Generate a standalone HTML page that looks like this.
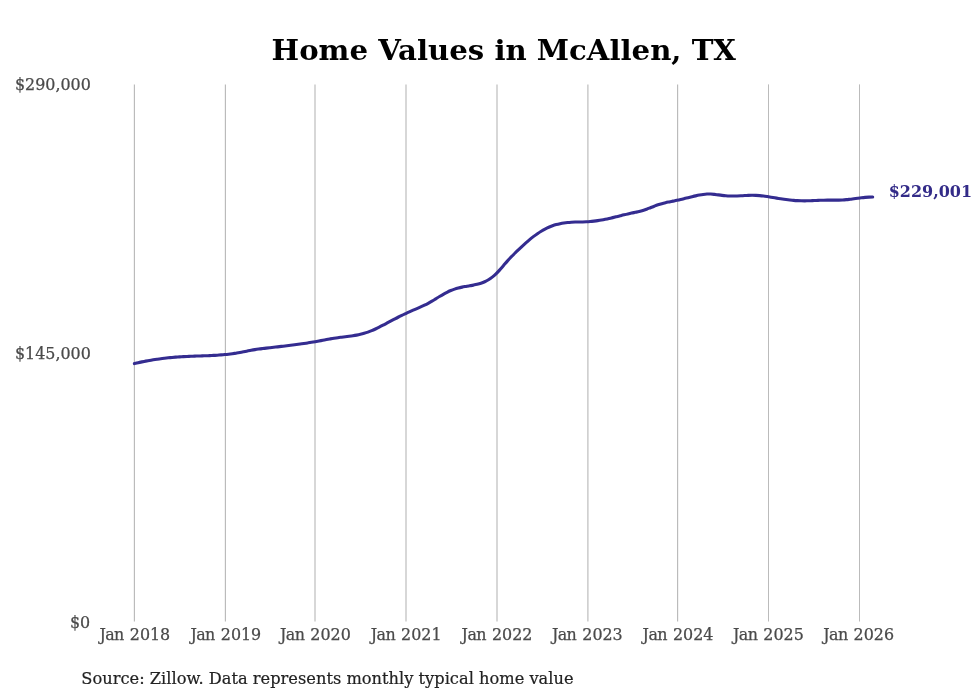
<!DOCTYPE html>
<html lang="en">
<head>
<meta charset="utf-8">
<title>Home Values in McAllen, TX</title>
<style>
html,body{margin:0;padding:0;background:#fff;}
body{width:980px;height:699px;overflow:hidden;font-family:"DejaVu Serif","Liberation Serif",serif;}
svg{display:block;}
svg text{font-family:"DejaVu Serif","Liberation Serif",serif;}
.grid line{stroke:#bbbbbb;}
.tick text{font-size:15.9px;fill:#4a4a4a;stroke:#4a4a4a;stroke-width:0.25px;}
.title{font-size:29.17px;font-weight:bold;fill:#000;}
.val{font-size:16.4px;font-weight:bold;fill:#332b88;}
.src{font-size:16.67px;fill:#222;stroke:#222;stroke-width:0.2px;}
</style>
</head>
<body>
<svg width="980" height="699" viewBox="0 0 980 699">
<rect x="0" y="0" width="980" height="699" fill="#ffffff"/>
<text class="title" transform="translate(503.8,60.3) scale(1,0.95)" text-anchor="middle">Home Values in McAllen, TX</text>
<g class="grid">
<line x1="134.41" y1="84.4" x2="134.41" y2="621.5" stroke-width="1.18"/>
<line x1="225.41" y1="84.4" x2="225.41" y2="621.5" stroke-width="1.18"/>
<line x1="315.00" y1="84.4" x2="315.00" y2="621.5" stroke-width="1.18"/>
<line x1="406.00" y1="84.4" x2="406.00" y2="621.5" stroke-width="1.18"/>
<line x1="497.00" y1="84.4" x2="497.00" y2="621.5" stroke-width="1.18"/>
<line x1="587.90" y1="84.4" x2="587.90" y2="621.5" stroke-width="1.18"/>
<line x1="677.59" y1="84.4" x2="677.59" y2="621.5" stroke-width="1.18"/>
<line x1="768.50" y1="84.4" x2="768.50" y2="621.5" stroke-width="1.00"/>
<line x1="859.50" y1="84.4" x2="859.50" y2="621.5" stroke-width="1.00"/>
</g>
<g class="tick">
<text x="90.8" y="89.8" text-anchor="end">$290,000</text>
<text x="90.8" y="359.0" text-anchor="end">$145,000</text>
<text x="90.2" y="628.4" text-anchor="end">$0</text>
<text x="134.8" y="639.9" text-anchor="middle"><tspan letter-spacing="-0.55">Jan</tspan><tspan dx="0.9"> 2018</tspan></text>
<text x="225.8" y="639.9" text-anchor="middle"><tspan letter-spacing="-0.55">Jan</tspan><tspan dx="0.9"> 2019</tspan></text>
<text x="315.4" y="639.9" text-anchor="middle"><tspan letter-spacing="-0.55">Jan</tspan><tspan dx="0.9"> 2020</tspan></text>
<text x="406.1" y="639.9" text-anchor="middle"><tspan letter-spacing="-0.55">Jan</tspan><tspan dx="0.9"> 2021</tspan></text>
<text x="497.0" y="639.9" text-anchor="middle"><tspan letter-spacing="-0.55">Jan</tspan><tspan dx="0.9"> 2022</tspan></text>
<text x="587.3" y="639.9" text-anchor="middle"><tspan letter-spacing="-0.55">Jan</tspan><tspan dx="0.9"> 2023</tspan></text>
<text x="678.0" y="639.9" text-anchor="middle"><tspan letter-spacing="-0.55">Jan</tspan><tspan dx="0.9"> 2024</tspan></text>
<text x="768.4" y="639.9" text-anchor="middle"><tspan letter-spacing="-0.55">Jan</tspan><tspan dx="0.9"> 2025</tspan></text>
<text x="858.6" y="639.9" text-anchor="middle"><tspan letter-spacing="-0.55">Jan</tspan><tspan dx="0.9"> 2026</tspan></text>
</g>
<path d="M134.40,363.57 C135.03,363.42 136.91,362.97 138.17,362.69 C139.42,362.41 140.68,362.14 141.93,361.88 C143.19,361.62 144.44,361.37 145.70,361.13 C146.96,360.89 148.21,360.66 149.47,360.44 C150.72,360.22 151.98,360.01 153.23,359.81 C154.49,359.60 155.75,359.41 157.00,359.23 C158.26,359.05 159.51,358.87 160.77,358.71 C162.02,358.54 163.28,358.39 164.53,358.24 C165.79,358.09 167.05,357.95 168.30,357.82 C169.56,357.69 170.81,357.57 172.07,357.45 C173.32,357.34 174.58,357.23 175.84,357.13 C177.09,357.03 178.35,356.94 179.60,356.85 C180.86,356.77 182.11,356.69 183.37,356.62 C184.62,356.55 185.88,356.49 187.14,356.43 C188.39,356.37 189.65,356.32 190.90,356.27 C192.16,356.22 193.41,356.18 194.67,356.13 C195.93,356.09 197.18,356.05 198.44,356.01 C199.69,355.96 200.95,355.92 202.20,355.88 C203.46,355.84 204.71,355.79 205.97,355.74 C207.23,355.70 208.48,355.65 209.74,355.59 C210.99,355.53 212.25,355.47 213.50,355.40 C214.76,355.34 216.01,355.26 217.27,355.18 C218.53,355.10 219.78,355.01 221.04,354.91 C222.29,354.81 223.55,354.70 224.80,354.57 C226.06,354.45 227.32,354.32 228.57,354.17 C229.83,354.03 231.08,353.87 232.34,353.70 C233.59,353.53 234.85,353.35 236.10,353.16 C237.36,352.96 238.62,352.75 239.87,352.53 C241.13,352.31 242.38,352.06 243.64,351.81 C244.89,351.56 246.15,351.28 247.41,351.02 C248.66,350.76 249.92,350.49 251.17,350.25 C252.43,350.02 253.68,349.80 254.94,349.60 C256.19,349.40 257.45,349.22 258.71,349.05 C259.96,348.88 261.22,348.73 262.47,348.58 C263.73,348.43 264.98,348.28 266.24,348.14 C267.49,347.99 268.75,347.84 270.01,347.70 C271.26,347.56 272.52,347.41 273.77,347.27 C275.03,347.13 276.28,346.98 277.54,346.84 C278.80,346.70 280.05,346.55 281.31,346.41 C282.56,346.26 283.82,346.12 285.07,345.97 C286.33,345.82 287.58,345.67 288.84,345.51 C290.10,345.36 291.35,345.20 292.61,345.04 C293.86,344.88 295.12,344.72 296.37,344.55 C297.63,344.38 298.89,344.21 300.14,344.03 C301.40,343.86 302.65,343.68 303.91,343.49 C305.16,343.31 306.42,343.12 307.67,342.92 C308.93,342.73 310.19,342.53 311.44,342.32 C312.70,342.11 313.95,341.90 315.21,341.68 C316.46,341.45 317.72,341.22 318.98,340.99 C320.23,340.76 321.49,340.52 322.74,340.28 C324.00,340.05 325.25,339.81 326.51,339.57 C327.76,339.34 329.02,339.11 330.28,338.89 C331.53,338.67 332.79,338.45 334.04,338.25 C335.30,338.05 336.55,337.86 337.81,337.69 C339.06,337.51 340.32,337.36 341.58,337.20 C342.83,337.05 344.09,336.91 345.34,336.76 C346.60,336.61 347.85,336.46 349.11,336.30 C350.37,336.13 351.62,335.96 352.88,335.77 C354.13,335.58 355.39,335.37 356.64,335.13 C357.90,334.89 359.15,334.63 360.41,334.34 C361.67,334.04 362.92,333.72 364.18,333.35 C365.43,332.98 366.69,332.58 367.94,332.13 C369.20,331.69 370.46,331.19 371.71,330.67 C372.97,330.15 374.22,329.58 375.48,329.00 C376.73,328.42 377.99,327.80 379.24,327.17 C380.50,326.54 381.76,325.88 383.01,325.22 C384.27,324.56 385.52,323.88 386.78,323.20 C388.03,322.53 389.29,321.84 390.54,321.17 C391.80,320.49 393.06,319.82 394.31,319.17 C395.57,318.52 396.82,317.87 398.08,317.24 C399.33,316.61 400.59,316.00 401.85,315.39 C403.10,314.78 404.36,314.19 405.61,313.60 C406.87,313.02 408.12,312.44 409.38,311.88 C410.63,311.31 411.89,310.76 413.15,310.20 C414.40,309.65 415.66,309.11 416.91,308.57 C418.17,308.02 419.42,307.49 420.68,306.93 C421.94,306.37 423.19,305.81 424.45,305.20 C425.70,304.60 426.96,303.97 428.21,303.30 C429.47,302.62 430.72,301.89 431.98,301.15 C433.24,300.41 434.49,299.63 435.75,298.86 C437.00,298.09 438.26,297.29 439.51,296.54 C440.77,295.78 442.02,295.03 443.28,294.32 C444.54,293.62 445.79,292.93 447.05,292.30 C448.30,291.67 449.56,291.08 450.81,290.55 C452.07,290.01 453.33,289.54 454.58,289.11 C455.84,288.69 457.09,288.34 458.35,288.01 C459.60,287.68 460.86,287.40 462.11,287.14 C463.37,286.88 464.63,286.66 465.88,286.43 C467.14,286.20 468.39,286.00 469.65,285.79 C470.90,285.57 472.16,285.36 473.42,285.12 C474.67,284.87 475.93,284.62 477.18,284.31 C478.44,283.99 479.69,283.65 480.95,283.23 C482.20,282.80 483.46,282.33 484.72,281.75 C485.97,281.17 487.23,280.52 488.48,279.75 C489.74,278.98 490.99,278.11 492.25,277.12 C493.51,276.13 494.76,275.03 496.02,273.82 C497.27,272.61 498.53,271.23 499.78,269.84 C501.04,268.45 502.29,266.92 503.55,265.47 C504.81,264.01 506.06,262.51 507.32,261.11 C508.57,259.70 509.83,258.35 511.08,257.04 C512.34,255.73 513.59,254.47 514.85,253.23 C516.11,251.99 517.36,250.79 518.62,249.60 C519.87,248.40 521.13,247.21 522.38,246.05 C523.64,244.89 524.90,243.75 526.15,242.64 C527.41,241.53 528.66,240.44 529.92,239.40 C531.17,238.35 532.43,237.35 533.68,236.39 C534.94,235.43 536.20,234.52 537.45,233.65 C538.71,232.79 539.96,231.97 541.22,231.21 C542.47,230.45 543.73,229.74 544.99,229.09 C546.24,228.44 547.50,227.84 548.75,227.29 C550.01,226.74 551.26,226.25 552.52,225.80 C553.77,225.35 555.03,224.95 556.29,224.59 C557.54,224.23 558.80,223.92 560.05,223.64 C561.31,223.37 562.56,223.13 563.82,222.94 C565.08,222.74 566.33,222.58 567.59,222.46 C568.84,222.33 570.10,222.25 571.35,222.18 C572.61,222.11 573.86,222.08 575.12,222.05 C576.38,222.02 577.63,222.02 578.89,222.00 C580.14,221.98 581.40,221.97 582.65,221.94 C583.91,221.91 585.16,221.88 586.42,221.81 C587.68,221.75 588.93,221.66 590.19,221.55 C591.44,221.44 592.70,221.29 593.95,221.14 C595.21,220.98 596.47,220.81 597.72,220.61 C598.98,220.42 600.23,220.22 601.49,219.99 C602.74,219.77 604.00,219.53 605.25,219.28 C606.51,219.03 607.77,218.77 609.02,218.49 C610.28,218.21 611.53,217.92 612.79,217.62 C614.04,217.32 615.30,217.00 616.56,216.69 C617.81,216.38 619.07,216.06 620.32,215.74 C621.58,215.42 622.83,215.10 624.09,214.80 C625.34,214.49 626.60,214.18 627.86,213.90 C629.11,213.61 630.37,213.33 631.62,213.07 C632.88,212.81 634.13,212.58 635.39,212.33 C636.64,212.09 637.90,211.88 639.16,211.58 C640.41,211.28 641.67,210.94 642.92,210.54 C644.18,210.14 645.43,209.67 646.69,209.20 C647.95,208.73 649.20,208.21 650.46,207.71 C651.71,207.21 652.97,206.69 654.22,206.21 C655.48,205.73 656.73,205.25 657.99,204.83 C659.25,204.41 660.50,204.03 661.76,203.68 C663.01,203.33 664.27,203.02 665.52,202.73 C666.78,202.43 668.04,202.17 669.29,201.90 C670.55,201.64 671.80,201.39 673.06,201.14 C674.31,200.88 675.57,200.63 676.82,200.35 C678.08,200.08 679.34,199.80 680.59,199.50 C681.85,199.21 683.10,198.90 684.36,198.59 C685.61,198.29 686.87,197.97 688.12,197.66 C689.38,197.35 690.64,197.04 691.89,196.73 C693.15,196.43 694.40,196.13 695.66,195.86 C696.91,195.58 698.17,195.30 699.43,195.06 C700.68,194.82 701.94,194.59 703.19,194.42 C704.45,194.24 705.70,194.09 706.96,194.03 C708.21,193.96 709.47,193.97 710.73,194.03 C711.98,194.09 713.24,194.24 714.49,194.38 C715.75,194.52 717.00,194.72 718.26,194.88 C719.52,195.05 720.77,195.22 722.03,195.37 C723.28,195.52 724.54,195.66 725.79,195.76 C727.05,195.87 728.30,195.96 729.56,196.01 C730.82,196.06 732.07,196.08 733.33,196.07 C734.58,196.07 735.84,196.03 737.09,195.98 C738.35,195.93 739.61,195.86 740.86,195.79 C742.12,195.72 743.37,195.64 744.63,195.57 C745.88,195.51 747.14,195.44 748.39,195.39 C749.65,195.35 750.91,195.31 752.16,195.31 C753.42,195.31 754.67,195.33 755.93,195.39 C757.18,195.44 758.44,195.54 759.69,195.65 C760.95,195.76 762.21,195.90 763.46,196.06 C764.72,196.22 765.97,196.40 767.23,196.58 C768.48,196.77 769.74,196.97 771.00,197.18 C772.25,197.38 773.51,197.60 774.76,197.81 C776.02,198.02 777.27,198.23 778.53,198.44 C779.78,198.64 781.04,198.84 782.30,199.02 C783.55,199.21 784.81,199.38 786.06,199.54 C787.32,199.71 788.57,199.86 789.83,199.99 C791.09,200.12 792.34,200.25 793.60,200.35 C794.85,200.45 796.11,200.54 797.36,200.61 C798.62,200.68 799.87,200.74 801.13,200.78 C802.39,200.81 803.64,200.83 804.90,200.83 C806.15,200.82 807.41,200.80 808.66,200.77 C809.92,200.73 811.17,200.68 812.43,200.63 C813.69,200.58 814.94,200.52 816.20,200.46 C817.45,200.41 818.71,200.35 819.96,200.30 C821.22,200.25 822.48,200.21 823.73,200.19 C824.99,200.16 826.24,200.15 827.50,200.14 C828.75,200.13 830.01,200.14 831.26,200.13 C832.52,200.13 833.78,200.14 835.03,200.13 C836.29,200.12 837.54,200.11 838.80,200.08 C840.05,200.04 841.31,200.00 842.57,199.93 C843.82,199.86 845.08,199.76 846.33,199.65 C847.59,199.53 848.84,199.38 850.10,199.24 C851.35,199.09 852.61,198.91 853.87,198.75 C855.12,198.58 856.38,198.40 857.63,198.24 C858.89,198.08 860.14,197.92 861.40,197.78 C862.66,197.64 863.91,197.51 865.17,197.41 C866.42,197.30 867.68,197.21 868.93,197.15 C870.19,197.10 872.07,197.07 872.70,197.06" fill="none" stroke="#342c90" stroke-width="3.1" stroke-linejoin="round" stroke-linecap="round"/>
<text class="val" transform="translate(888.7,196.7) scale(0.975,1)">$229,001</text>
<text class="src" transform="translate(81.3,683.7) scale(0.975,1)">Source: Zillow. Data represents monthly typical home value</text>
</svg>
</body>
</html>
